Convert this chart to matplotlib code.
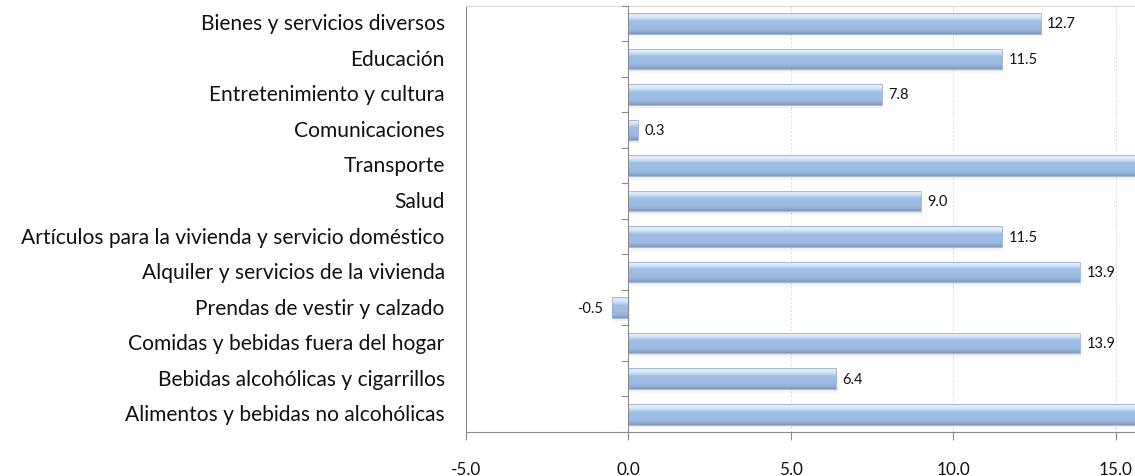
import numpy as np
import matplotlib.pyplot as plt
from matplotlib.colors import LinearSegmentedColormap
from matplotlib.patches import Rectangle

plt.rcParams['font.family'] = ['Lato', 'DejaVu Sans']

categorias = [
    'Alimentos y bebidas no alcohólicas',
    'Bebidas alcohólicas y cigarrillos',
    'Comidas y bebidas fuera del hogar',
    'Prendas de vestir y calzado',
    'Alquiler y servicios de la vivienda',
    'Artículos para la vivienda y servicio doméstico',
    'Salud',
    'Transporte',
    'Comunicaciones',
    'Entretenimiento y cultura',
    'Educación',
    'Bienes y servicios diversos',
]
valores = [17.0, 6.4, 13.9, -0.5, 13.9, 11.5, 9.0, 17.5, 0.3, 7.8, 11.5, 12.7]
xmin, xmax = -5.0, 15.6
xticks = [-5.0, 0.0, 5.0, 10.0, 15.0]

fig = plt.figure(figsize=(11.35, 4.77), dpi=100)
ax = fig.add_axes([465.5 / 1135, 1 - 433 / 477, 1 - 465.5 / 1135, (433 - 6.5) / 477])

# vertical gradient for the cylinder look (bottom -> top)
grad = LinearSegmentedColormap.from_list('barra', [
    (0.0, '#8199bd'), (0.1, '#8eaad0'), (0.22, '#9bbae2'), (0.62, '#a0bee5'),
    (0.74, '#c6dcf3'), (0.88, '#e1eefb'), (1.0, '#d2e4f7')])
g = np.linspace(0, 1, 64).reshape(-1, 1)

h = 0.58
for i, v in enumerate(valores):
    x0, x1 = min(0, v), max(0, v)
    # soft shadow
    for k, a in enumerate([0.10, 0.07, 0.04]):
        d = 0.025 * (k + 1)
        ax.add_patch(Rectangle((x0 + d, i - h / 2 - d * 1.6), x1 - x0, h,
                               facecolor='#808080', alpha=a, edgecolor='none', zorder=2))
    im = ax.imshow(g, cmap=grad, aspect='auto', origin='lower',
                   extent=(x0, x1, i - h / 2, i + h / 2), zorder=3)
    r = Rectangle((x0, i - h / 2), x1 - x0, h, facecolor='none',
                  edgecolor='#8eaad0', linewidth=0.5, zorder=4)
    ax.add_patch(r)
    im.set_clip_path(r)
    if v <= xmax:
        if v >= 0:
            ax.text(v + 0.2, i, f'{v:.1f}', va='center', ha='left', fontsize=10.5, color='#111111')
        else:
            ax.text(v - 0.25, i, f'{v:.1f}', va='center', ha='right', fontsize=10.5, color='#111111')

ax.set_xlim(xmin, xmax)
ax.set_ylim(-0.5, len(categorias) - 0.5)

for x in [5, 10, 15]:
    ax.axvline(x, color='#d9d9d9', linestyle=(0, (2, 2)), linewidth=0.7, zorder=1)

# category axis sits at zero
ax.axvline(0, color='#8c8c8c', linewidth=0.8, zorder=5)
for b in np.arange(-0.5, len(categorias), 1.0):
    ax.plot([-0.17, 0], [b, b], color='#8c8c8c', linewidth=0.8, clip_on=False, zorder=5)

for i, c in enumerate(categorias):
    ax.text(-0.031, i, c, transform=ax.get_yaxis_transform(), ha='right', va='center',
            fontsize=15.1, color='#111111')

ax.set_yticks([])
ax.set_xticks(xticks)
ax.set_xticklabels([f'{t:.1f}' for t in xticks], fontsize=12.3, color='#111111')
ax.tick_params(axis='x', length=6, color='#8c8c8c', pad=15)

ax.spines['right'].set_visible(False)
ax.spines['top'].set_color('#d9d9d9')
ax.spines['left'].set_color('#8c8c8c')
ax.spines['bottom'].set_color('#8c8c8c')

fig.savefig('out.png', dpi=100)
